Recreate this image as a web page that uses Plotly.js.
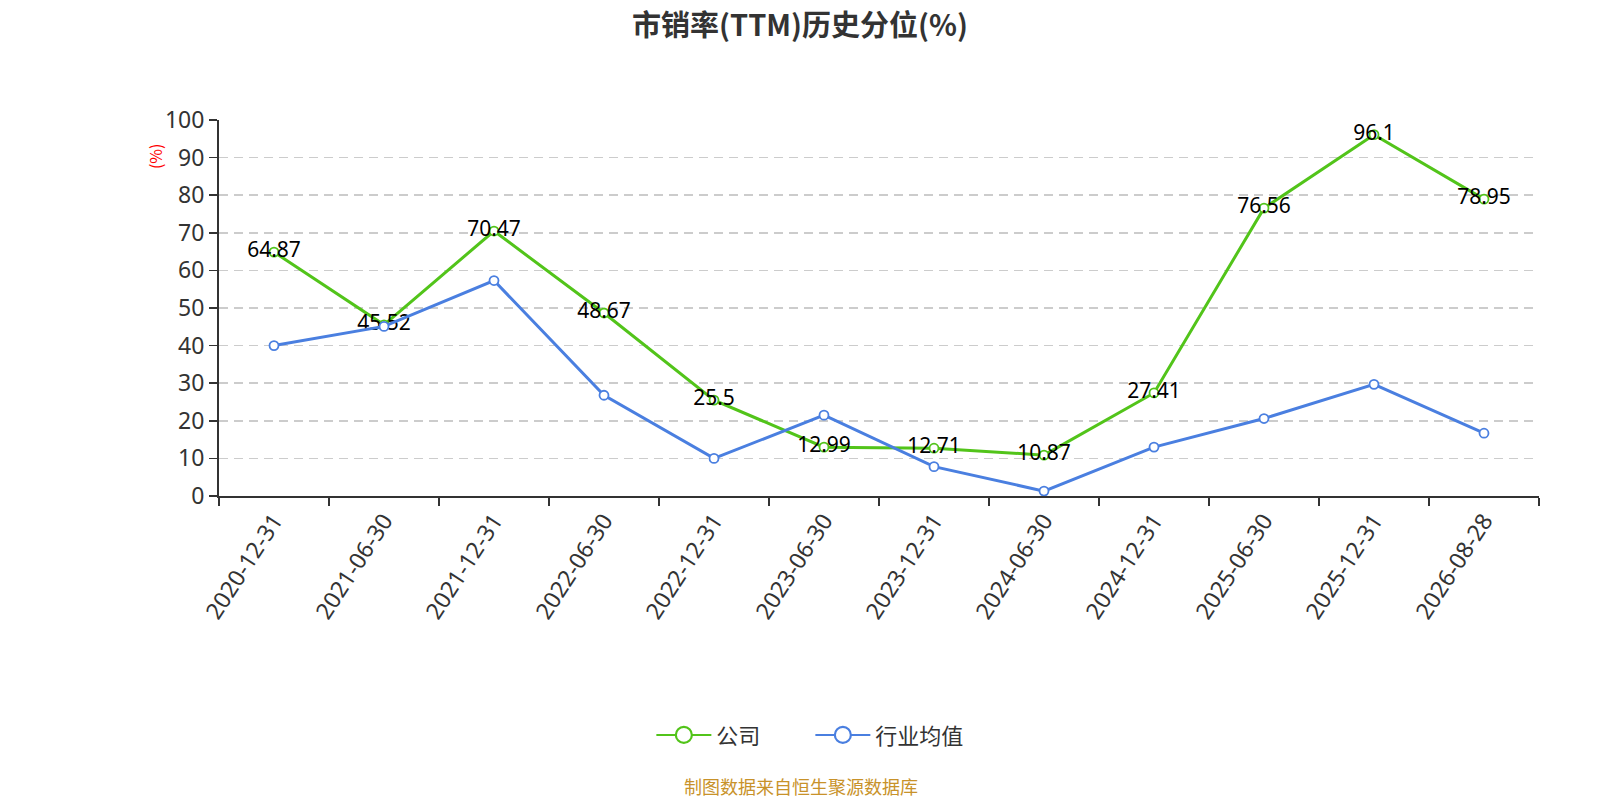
<!DOCTYPE html>
<html>
<head>
<meta charset="utf-8">
<script src="https://cdn.plot.ly/plotly-3.0.1.min.js"></script>
<style>
  body { margin: 0; background: #fff; }
  #graphDiv { width: 1600px; height: 800px; }
</style>
</head>
<body>
<div id="graphDiv"></div>
<script>
'use strict';

const dates = ["2020-12-31", "2021-06-30", "2021-12-31", "2022-06-30", "2022-12-31", "2023-06-30",
  "2023-12-31", "2024-06-30", "2024-12-31", "2025-06-30", "2025-12-31", "2026-08-28"];
const companyValues = [64.87, 45.52, 70.47, 48.67, 25.5, 12.99, 12.71, 10.87, 27.41, 76.56, 96.1, 78.95];
const industryValues = [40.0, 45.1, 57.3, 26.8, 10.0, 21.5, 7.8, 1.3, 13.0, 20.6, 29.7, 16.7];
const yTicks = [0, 10, 20, 30, 40, 50, 60, 70, 80, 90, 100];
const seriesNames = ["公司", "行业均值"];

const green = "#52c41a";
const blue = "#4a7fe0";
const font = "'Noto Sans CJK SC', 'Noto Sans', sans-serif";
const numFont = "'Noto Sans', 'Noto Sans CJK SC', sans-serif";

function lineTrace(name, values, color, withText) {
  let trace = {
    type: "scatter",
    mode: withText ? "lines+markers+text" : "lines+markers",
    name: name,
    x: dates,
    y: values,
    showlegend: false,
    line: { color: color, width: 3 },
    marker: { symbol: "circle", size: 9, color: "#fff", line: { color: color, width: 1.8 } },
    hoverinfo: "x+y+name"
  };
  if (withText) {
    trace.text = values.map(String);
    trace.textposition = "middle center";
    trace.textfont = { family: numFont, size: 21, color: "#000" };
  }
  return trace;
}

// legend-only entries, so the legend can show a bigger open circle
function legendTrace(name, color) {
  return {
    type: "scatter",
    mode: "lines+markers",
    name: name,
    x: [null],
    y: [null],
    line: { color: color, width: 2 },
    marker: { symbol: "circle", size: 20, color: "#fff", line: { color: color, width: 2.2 } },
    hoverinfo: "skip"
  };
}

let data = [
  lineTrace(seriesNames[0], companyValues, green, true),
  lineTrace(seriesNames[1], industryValues, blue, false),
  legendTrace(seriesNames[0], green),
  legendTrace(seriesNames[1], blue)
];

let layout = {
  width: 1600,
  height: 800,
  paper_bgcolor: "#fff",
  plot_bgcolor: "#fff",
  font: { family: font, color: "#333" },
  margin: { l: 219, r: 61, t: 120, b: 304 },
  title: {
    text: "<b>市销率(TTM)历史分位(%)</b>",
    x: 0.5, xanchor: "center",
    y: 0.968, yanchor: "middle",
    font: { family: font, size: 29, color: "#333" }
  },
  xaxis: {
    type: "category",
    range: [-0.5, 11.5],
    tickson: "boundaries",
    ticks: "outside",
    ticklen: 8,
    tickcolor: "#333",
    tickwidth: 1.5,
    tickangle: -57,
    tickfont: { family: numFont, size: 23, color: "#333" },
    showline: true,
    linecolor: "#333",
    linewidth: 2,
    showgrid: false,
    zeroline: false,
    fixedrange: true
  },
  yaxis: {
    range: [0, 100],
    tickvals: yTicks,
    ticks: "outside",
    ticklen: 8,
    tickcolor: "#333",
    tickwidth: 1.5,
    tickfont: { family: numFont, size: 23, color: "#333" },
    showline: true,
    linecolor: "#333",
    linewidth: 2,
    gridcolor: "#cccccc",
    griddash: "9px,6px",
    gridwidth: 1.5,
    zeroline: false,
    fixedrange: true
  },
  showlegend: true,
  legend: {
    orientation: "h",
    x: 0.448, xanchor: "center",
    y: -0.636, yanchor: "middle",
    font: { family: font, size: 22, color: "#333" },
    itemwidth: 55,
    entrywidth: 89
  },
  annotations: [
    {
      text: "(%)",
      textangle: -90,
      xref: "paper", yref: "paper",
      x: -0.049, y: 0.905,
      xanchor: "center", yanchor: "middle",
      showarrow: false,
      font: { family: font, size: 16, color: "#ff0000" }
    },
    {
      text: "制图数据来自恒生聚源数据库",
      xref: "paper", yref: "paper",
      x: 0.441, y: -0.772,
      xanchor: "center", yanchor: "middle",
      showarrow: false,
      borderpad: 0,
      font: { family: font, size: 18, color: "#c8922a" }
    }
  ]
};

Plotly.newPlot("graphDiv", data, layout, { displayModeBar: false, staticPlot: true });
</script>
</body>
</html>
